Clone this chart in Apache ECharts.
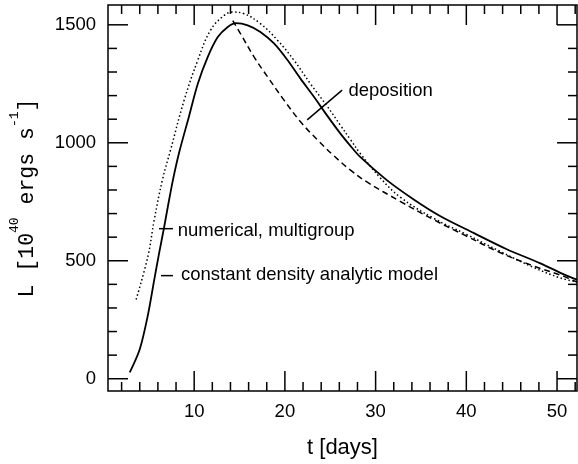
<!DOCTYPE html>
<html><head><meta charset="utf-8">
<script src="https://cdn.jsdelivr.net/npm/echarts@6/dist/echarts.min.js"></script>
<style>html,body{margin:0;padding:0;background:#fff}#c{width:578px;height:464px}</style>
</head><body><div id="c"></div>
<script>
// Tick values
const xMajorTicks = [10, 20, 30, 40, 50];
const xMinorTicks = [2, 4, 6, 8, 12, 14, 16, 18, 22, 24, 26, 28, 32, 34, 36, 38, 42, 44, 46, 48, 52];
const yMajorTicks = [0, 500, 1000, 1500];
const yMinorTicks = [100, 200, 300, 400, 600, 700, 800, 900, 1100, 1200, 1300, 1400];

// numerical, multigroup (solid)
const tNumerical = [2.9, 4.0, 4.9, 5.6, 6.1, 6.7, 7.1, 7.7, 8.35, 9.45, 10.4, 11.5, 12.6, 13.7, 14.6, 15.9, 17.3, 18.8, 20.3, 21.7, 23.2, 24.7, 26.1, 27.2, 28.3, 31.2, 34.2, 37.1, 40.8, 44.4, 48.1, 51.0, 52.2];
const lNumerical = [27, 125, 270, 420, 525, 645, 730, 850, 960, 1115, 1250, 1364, 1448, 1491, 1507, 1498, 1470, 1421, 1350, 1273, 1195, 1113, 1040, 988, 940, 843, 760, 690, 618, 550, 490, 438, 420];

// constant density analytic model (dotted)
const tAnalytic = [3.6, 4.9, 5.6, 6.5, 7.4, 8.9, 10.4, 11.8, 13.3, 14.2, 15.5, 17.3, 19.2, 21.0, 22.8, 24.7, 26.1, 27.2, 28.3, 30.5, 32.7, 36.4, 40.0, 43.7, 47.4, 50.3, 52.2];
const lAnalytic = [336, 519, 674, 843, 970, 1181, 1350, 1477, 1540, 1554, 1547, 1505, 1434, 1350, 1251, 1153, 1075, 1015, 955, 852, 770, 680, 612, 540, 472, 428, 410];

// deposition (dashed)
const tDeposition = [14.25, 15.1, 16.6, 18.1, 19.9, 21.7, 23.6, 25.4, 27.2, 29.0, 32.7, 36.4, 40.0, 43.7, 47.4, 50.3, 52.2];
const lDeposition = [1518, 1463, 1364, 1279, 1181, 1090, 1012, 945, 885, 835, 752, 674, 605, 535, 478, 440, 410];

(function () {
const pair = (xs, ys) => xs.map((x, i) => [x, ys[i]]);

const X_MIN = 0.5, X_MAX = 52.2, Y_MIN = -52, Y_MAX = 1584;
const tickFont = {color: '#000', fontSize: 18.5, fontFamily: 'Liberation Sans'};

const chart = echarts.init(document.getElementById('c'), null, {renderer: 'canvas'});
chart.setOption({
  animation: false,
  backgroundColor: '#fff',
  grid: {left: 107, right: 1, top: 5, bottom: 72, show: true, borderColor: '#000', borderWidth: 1.5, backgroundColor: 'transparent'},
  xAxis: {
    type: 'value', position: 'bottom', min: X_MIN, max: X_MAX,
    axisLine: {show: false}, splitLine: {show: false}, axisTick: {show: false},
    axisLabel: Object.assign({customValues: xMajorTicks, margin: 11, formatter: v => String(v)}, tickFont),
    name: 't [days]', nameLocation: 'middle', nameGap: 46,
    nameTextStyle: {color: '#000', fontSize: 22, fontFamily: 'Liberation Sans'}
  },
  yAxis: {
    type: 'value', position: 'left', min: Y_MIN, max: Y_MAX,
    axisLine: {show: false}, splitLine: {show: false}, axisTick: {show: false},
    axisLabel: Object.assign({customValues: yMajorTicks, margin: 12, formatter: v => String(v)}, tickFont),
    name: '{m|L [10}{s|40}{m| ergs s}{s|-1}{m|]}', nameLocation: 'middle', nameGap: 70,
    nameTextStyle: {
      color: '#000',
      rich: {
        m: {fontSize: 21.5, fontFamily: 'Liberation Mono', color: '#000', verticalAlign: 'bottom', lineHeight: 30},
        s: {fontSize: 13, fontFamily: 'Liberation Mono', color: '#000', verticalAlign: 'top', lineHeight: 30}
      }
    }
  },
  series: [
    {name: 'numerical, multigroup', type: 'line', data: pair(tNumerical, lNumerical), symbol: 'none', smooth: 0.3,
      lineStyle: {color: '#000', width: 1.8, type: 'solid'}},
    {name: 'constant density analytic model', type: 'line', data: pair(tAnalytic, lAnalytic), symbol: 'none', smooth: 0.4,
      lineStyle: {color: '#000', width: 1.5, type: [1.5, 2.5]}},
    {name: 'deposition', type: 'line', data: pair(tDeposition, lDeposition), symbol: 'none', smooth: 0.4,
      lineStyle: {color: '#000', width: 1.5, type: [6, 4]}}
  ]
});

const px = p => chart.convertToPixel({xAxisIndex: 0, yAxisIndex: 0}, p);
const gr = [];
// ticks on all four sides, positioned through the axis scales
const c0 = px([X_MIN, Y_MIN]), c1 = px([X_MAX, Y_MAX]);
const gL = c0[0], gB = c0[1], gR = c1[0], gT = c1[1];
const tickStyle = {stroke: '#000', lineWidth: 1.5};
function addX(vals, len) {
  vals.forEach(v => {
    const x = px([v, 0])[0];
    gr.push({type: 'line', shape: {x1: x, y1: gB, x2: x, y2: gB - len}, style: tickStyle});
    gr.push({type: 'line', shape: {x1: x, y1: gT, x2: x, y2: gT + len}, style: tickStyle});
  });
}
function addY(vals, len) {
  vals.forEach(v => {
    const y = px([X_MIN, v])[1];
    gr.push({type: 'line', shape: {x1: gL, y1: y, x2: gL + len, y2: y}, style: tickStyle});
    gr.push({type: 'line', shape: {x1: gR, y1: y, x2: gR - len, y2: y}, style: tickStyle});
  });
}
addX(xMajorTicks, 20); addX(xMinorTicks, 9);
addY(yMajorTicks, 20); addY(yMinorTicks, 9);

// annotations anchored in data space
const annot = {
  deposition: {line: [[22.46, 1097], [26.31, 1223]], text: [27.0, 1222]},
  numerical: {line: [[6.12, 636], [7.66, 636]], text: [8.18, 627]},
  analytic: {line: [[6.34, 437], [7.66, 437]], text: [8.54, 442]}
};
const annFont = '18.5px "Liberation Sans"';
[['deposition', 'deposition'], ['numerical', 'numerical, multigroup'], ['analytic', 'constant density analytic model']].forEach(([k, txt]) => {
  const a = annot[k];
  const p1 = px(a.line[0]), p2 = px(a.line[1]), pt = px(a.text);
  gr.push({type: 'line', shape: {x1: p1[0], y1: p1[1], x2: p2[0], y2: p2[1]}, style: {stroke: '#000', lineWidth: 1.5}});
  gr.push({type: 'text', x: pt[0], y: pt[1], style: {text: txt, font: annFont, fill: '#000', textAlign: 'left', textVerticalAlign: 'middle'}});
});
chart.setOption({graphic: gr});
})();
</script>
</body></html>
